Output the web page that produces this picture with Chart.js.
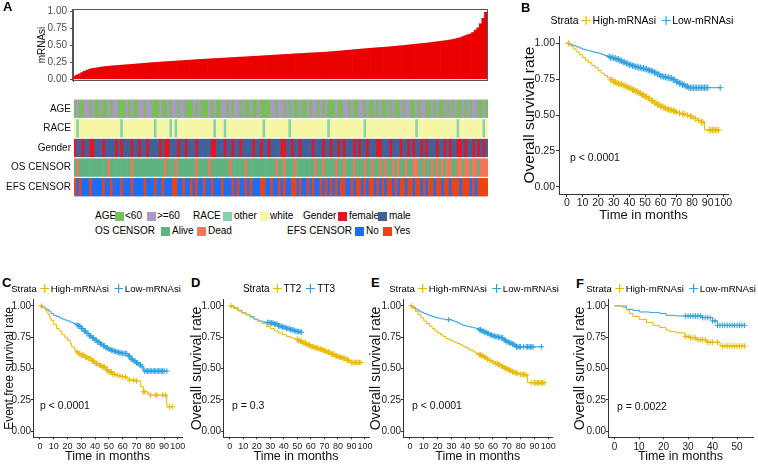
<!DOCTYPE html>
<html><head><meta charset="utf-8">
<script src="https://cdn.jsdelivr.net/npm/chart.js@4/dist/chart.umd.min.js"></script>
<style>
html,body{margin:0;padding:0;background:#fff;}
body{width:758px;height:464px;position:relative;overflow:hidden;font-family:'Liberation Sans',Arial,sans-serif;color:#000;}
canvas{position:absolute;}
.pl{position:absolute;font-weight:bold;font-size:13px;line-height:13px;}
.pv{position:absolute;font-size:10.5px;line-height:12px;color:#111;white-space:nowrap;}
.lg{position:absolute;font-size:9.6px;line-height:12px;white-space:nowrap;transform:translate(-50%,-50%);}
.key{display:inline-block;width:9px;height:9px;margin:0 2px 0 3px;vertical-align:-1px;}
.key.k2{margin-left:5px;}
.sw{position:absolute;width:9px;height:9px;}
.lt{position:absolute;font-size:10px;line-height:10px;white-space:nowrap;}
</style></head><body>

<canvas id="cA" width="490" height="90" style="left:0;top:0;width:490px;height:90px"></canvas>
<canvas id="cT" width="490" height="116" style="left:0;top:90px;width:490px;height:116px"></canvas>
<canvas id="cB" width="268" height="200" style="left:490px;top:28px;width:268px;height:200px"></canvas>
<canvas id="cC" width="190" height="172" style="left:0;top:292px;width:190px;height:172px"></canvas>
<canvas id="cD" width="190" height="172" style="left:186px;top:292px;width:190px;height:172px"></canvas>
<canvas id="cE" width="192" height="172" style="left:366px;top:292px;width:192px;height:172px"></canvas>
<canvas id="cF" width="190" height="172" style="left:568px;top:292px;width:190px;height:172px"></canvas>

<div class="pl" style="left:3px;top:0px">A</div>
<div class="pl" style="left:521px;top:1px">B</div>
<div class="pl" style="left:2px;top:276px">C</div>
<div class="pl" style="left:191px;top:276px">D</div>
<div class="pl" style="left:371px;top:276px">E</div>
<div class="pl" style="left:576px;top:277px">F</div>

<!-- panel A legend -->
<div class="lt" style="left:95px;top:211px">AGE</div>
<div class="sw" style="left:115px;top:211.5px;background:#78BE5A"></div>
<div class="lt" style="left:125px;top:211px">&lt;60</div>
<div class="sw" style="left:147px;top:211.5px;background:#AE97C8"></div>
<div class="lt" style="left:157px;top:211px">&gt;=60</div>
<div class="lt" style="left:193px;top:211px">RACE</div>
<div class="sw" style="left:223px;top:211.5px;background:#86D3A9"></div>
<div class="lt" style="left:234px;top:211px">other</div>
<div class="sw" style="left:260px;top:211.5px;background:#F6F7A6"></div>
<div class="lt" style="left:270px;top:211px">white</div>
<div class="lt" style="left:303px;top:211px">Gender</div>
<div class="sw" style="left:338px;top:211.5px;background:#E8141B"></div>
<div class="lt" style="left:349px;top:211px">female</div>
<div class="sw" style="left:378px;top:211.5px;background:#40609A"></div>
<div class="lt" style="left:389px;top:211px">male</div>
<div class="lt" style="left:95px;top:226px">OS CENSOR</div>
<div class="sw" style="left:161px;top:226.5px;background:#5FB37F"></div>
<div class="lt" style="left:172px;top:226px">Alive</div>
<div class="sw" style="left:197px;top:226.5px;background:#F57557"></div>
<div class="lt" style="left:208px;top:226px">Dead</div>
<div class="lt" style="left:287px;top:226px">EFS CENSOR</div>
<div class="sw" style="left:355px;top:226.5px;background:#1A6EF7"></div>
<div class="lt" style="left:366px;top:226px">No</div>
<div class="sw" style="left:383px;top:226.5px;background:#EA4414"></div>
<div class="lt" style="left:394px;top:226px">Yes</div>

<!-- KM legends -->
<div class="lg" style="left:642px;top:20px;font-size:10.5px">Strata<svg class="key" viewBox="0 0 9 9"><path d="M0 4.5H9M4.5 0V9" stroke="#E7B800" stroke-width="1.2" fill="none"/></svg>High-mRNAsi<svg class="key k2" viewBox="0 0 9 9"><path d="M0 4.5H9M4.5 0V9" stroke="#2E9FDF" stroke-width="1.2" fill="none"/></svg>Low-mRNAsi</div>
<div class="lg" style="left:96px;top:289px">Strata<svg class="key" viewBox="0 0 9 9"><path d="M0 4.5H9M4.5 0V9" stroke="#E7B800" stroke-width="1.2" fill="none"/></svg>High-mRNAsi<svg class="key k2" viewBox="0 0 9 9"><path d="M0 4.5H9M4.5 0V9" stroke="#2E9FDF" stroke-width="1.2" fill="none"/></svg>Low-mRNAsi</div>
<div class="lg" style="left:289px;top:289px;font-size:10px">Strata<svg class="key" viewBox="0 0 9 9"><path d="M0 4.5H9M4.5 0V9" stroke="#E7B800" stroke-width="1.2" fill="none"/></svg>TT2<svg class="key k2" viewBox="0 0 9 9"><path d="M0 4.5H9M4.5 0V9" stroke="#2E9FDF" stroke-width="1.2" fill="none"/></svg>TT3</div>
<div class="lg" style="left:474px;top:289px">Strata<svg class="key" viewBox="0 0 9 9"><path d="M0 4.5H9M4.5 0V9" stroke="#E7B800" stroke-width="1.2" fill="none"/></svg>High-mRNAsi<svg class="key k2" viewBox="0 0 9 9"><path d="M0 4.5H9M4.5 0V9" stroke="#2E9FDF" stroke-width="1.2" fill="none"/></svg>Low-mRNAsi</div>
<div class="lg" style="left:671px;top:289px">Strata<svg class="key" viewBox="0 0 9 9"><path d="M0 4.5H9M4.5 0V9" stroke="#E7B800" stroke-width="1.2" fill="none"/></svg>High-mRNAsi<svg class="key k2" viewBox="0 0 9 9"><path d="M0 4.5H9M4.5 0V9" stroke="#2E9FDF" stroke-width="1.2" fill="none"/></svg>Low-mRNAsi</div>

<div class="pv" style="left:570px;top:151px">p &lt; 0.0001</div>
<div class="pv" style="left:40px;top:399px">p &lt; 0.0001</div>
<div class="pv" style="left:232px;top:399px">p = 0.3</div>
<div class="pv" style="left:412px;top:399px">p &lt; 0.0001</div>
<div class="pv" style="left:617px;top:400px">p = 0.0022</div>

<script>
// ---------------- Panel A data ----------------
const sampleScore = [
0.045,0.065,0.08,0.1,0.12,0.135,0.15,0.16,0.165,0.17,
0.178,0.183,0.188,0.192,0.196,0.199,0.202,0.205,0.208,0.211,
0.214,0.217,0.22,0.223,0.226,0.229,0.232,0.236,0.239,0.242,
0.245,0.248,0.25,0.253,0.256,0.258,0.261,0.264,0.266,0.269,
0.271,0.274,0.276,0.279,0.281,0.284,0.286,0.289,0.291,0.294,
0.296,0.298,0.3,0.303,0.305,0.307,0.309,0.311,0.314,0.316,
0.318,0.32,0.322,0.325,0.327,0.329,0.331,0.333,0.336,0.338,
0.34,0.342,0.345,0.347,0.349,0.352,0.354,0.356,0.358,0.361,
0.363,0.365,0.368,0.37,0.372,0.375,0.377,0.379,0.381,0.384,
0.386,0.388,0.39,0.392,0.394,0.396,0.398,0.4,0.403,0.406,
0.409,0.412,0.416,0.419,0.422,0.426,0.429,0.432,0.436,0.44,
0.443,0.446,0.45,0.453,0.456,0.459,0.462,0.465,0.468,0.471,
0.474,0.477,0.48,0.483,0.487,0.49,0.494,0.498,0.502,0.506,
0.51,0.514,0.518,0.522,0.526,0.53,0.534,0.538,0.543,0.548,
0.553,0.558,0.563,0.568,0.573,0.579,0.586,0.594,0.603,0.613,
0.628,0.643,0.656,0.668,0.69,0.725,0.76,0.82,0.9,0.99];
const scoreTicks = [0, 0.25, 0.5, 0.75, 1];

// G = <60, P = >=60
const ageGroup = "GPGGPPGPGG PGGPGPPGGG PGPGGPPGPP GGGPGGPGPP GPPGGGPGPG GGPGPGGPPG PGPPGPGGPG GPGGGGPPGP PGPGPGGPGG PGPPGPGPGG GPGGPPGPGG PPGPGGPGPG GPGPGGPGPP GGPGPPGGPG PGGPGPGPGG PGPGPPGGPG";
// O = other, W = white
const raceGroup = "WOWWWWWWWW WWWWWWWWOW WWWWWWWWWW WOWWWWWOWO WWWWWWWWWW WWWWOWWWOW WWWWWWWWWW WWWOWWWWWW WWWOWWWWWW WWWWWWWWOW WWWWWWWWWW WWOWWWWWWW WWWWWWWWWW WWOWWWWWWW WWWWWWWWOW WWWWWWWWOW";
// F = female, M = male
const genderGroup = "FMMFMMFFMM MFMMMMFMFM MMFMMFMMFM MMMFMFFMMM FMMFMMMFMM MMMFFMMMFM MFMMFMMMMF MMFMMFMMMM FFMMFMMFMM MMFMMMFMMF MMFMFMMMFM FMMFMMMFFM MMFMMMFMMF MFMMFMFMMM FMMFMFMMFF MFMMFMFMFM";
// A = Alive, D = Dead
const osCensor = "ADAAAAAAAA AAADAAAAAA AADAAAAAAA AAAAADAAAD AAAAAAADAA AADAAAAAAA DAAAAADAAA AAAAAAAADA ADAAADAAAA AAADAADAAA ADAADAAADA AADAADAADA DAADADAADA ADDAADAADA DADADDAADD ADDADDADDD";
// N = No, Y = Yes
const efsCensor = "YNYNNNYNNN NYNNYNNNYN NNYNNNNYNN NYNNYNNNYY NNYNNYNYNN YNNYNNNYNN NYNYNNYNYN NNYYNNYNNY NYNNYYNYNN YNYNNYNYNY NYNYYNNYNY YNYNYYNYNY NYYNYNYYNY YNYYNYNYYN YYNYYNYYYN YYYNYNYYYY";

const trackNames = ['AGE', 'RACE', 'Gender', 'OS CENSOR', 'EFS CENSOR'];
const trackColors = [
  {G: '#78BE5A', P: '#AE97C8'},
  {O: '#86D3A9', W: '#F6F7A6'},
  {F: '#E8141B', M: '#40609A'},
  {A: '#5FB37F', D: '#F57557'},
  {N: '#1A6EF7', Y: '#EA4414'}
];

// ---------------- KM data ----------------
const survTicks = [0, 0.25, 0.5, 0.75, 1];
const monthTicks100 = [0,10,20,30,40,50,60,70,80,90,100];
const monthTicks50 = [0,10,20,30,40,50];

// B: overall survival, High vs Low mRNAsi
const bHighT = [0,2,4,6,8,10,12,14,16,18,20,22,24,26,28,30,32,34,36,38,40,42,44,46,48,50,52,54,56,58,60,62,64,66,68,70,72,74,76,78,80,82,84,86,88,97];
const bHighS = [1,0.98,0.96,0.94,0.92,0.9,0.88,0.865,0.845,0.83,0.81,0.79,0.775,0.76,0.745,0.73,0.72,0.715,0.705,0.695,0.686,0.675,0.665,0.652,0.64,0.628,0.615,0.6,0.585,0.572,0.56,0.55,0.54,0.535,0.528,0.52,0.513,0.506,0.5,0.493,0.486,0.475,0.463,0.45,0.395,0.395];
const bHighCens = [1,28,29,30,31,32,33,34,35,36,37,38,39,40,41,42,43,44,45,46,47,48,49,50,51,52,53,54,55,56,57,58,59,60,61,62,63,64,65,66,67,68,69,70,72,74,75,77,79,80,82,84,86,87,91,92,93,94,95,96,97];
const bLowT = [0,2,4,6,8,10,12,14,16,18,20,22,24,26,28,30,32,34,36,38,40,42,44,46,48,50,52,54,56,58,60,62,64,66,68,70,72,74,76,78,98];
const bLowS = [1,0.99,0.982,0.975,0.966,0.958,0.952,0.946,0.94,0.935,0.93,0.922,0.915,0.908,0.9,0.895,0.888,0.878,0.868,0.858,0.85,0.842,0.835,0.83,0.825,0.82,0.812,0.805,0.795,0.783,0.77,0.765,0.76,0.757,0.745,0.73,0.72,0.71,0.7,0.69,0.69];
const bLowCens = [27,28,29,30,31,32,33,34,35,36,37,38,39,40,41,42,43,44,45,46,47,48,49,50,51,52,53,54,55,56,57,58,59,60,61,62,63,64,65,66,67,68,69,70,71,72,73,74,75,76,77,78,79,80,81,82,83,84,85,86,87,88,89,90,98];

// C: event free survival
const cHighT = [0,2,4,5,6,7,8,10,12,14,16,18,20,22,23,25,26,28,30,33,35,38,40,43,45,48,50,53,55,58,60,63,65,70,73,75,78,80,92,96];
const cHighS = [1,0.985,0.965,0.95,0.93,0.91,0.885,0.85,0.82,0.8,0.77,0.75,0.726,0.7,0.673,0.65,0.633,0.62,0.606,0.59,0.58,0.56,0.54,0.525,0.513,0.49,0.473,0.455,0.447,0.44,0.434,0.42,0.407,0.4,0.354,0.314,0.3,0.287,0.194,0.194];
const cHighCens = [1,27,28,29,30,31,32,33,34,35,36,37,38,39,40,41,42,43,44,45,46,47,48,49,50,51,52,53,54,56,58,60,62,65,68,70,75,76,80,84,85,89,91,94,96];
const cLowT = [0,2,4,6,8,10,12,14,16,18,20,22,24,26,28,30,32,34,36,38,40,42,44,46,48,50,52,54,56,58,60,62,64,66,68,70,72,74,75,92];
const cLowS = [1,0.99,0.975,0.96,0.94,0.925,0.915,0.905,0.895,0.887,0.88,0.87,0.86,0.85,0.84,0.82,0.8,0.78,0.76,0.745,0.726,0.71,0.695,0.68,0.665,0.654,0.645,0.637,0.63,0.625,0.62,0.62,0.6,0.575,0.56,0.545,0.53,0.513,0.48,0.48];
const cLowCens = [27,28,29,30,31,32,33,34,35,36,37,38,39,40,41,42,43,44,45,46,47,48,49,50,51,52,53,54,55,56,57,58,59,60,61,62,63,64,65,66,67,68,69,70,71,72,73,74,76,77,78,79,80,81,82,83,84,85,86,87,88,89,90,92];

// D: TT2 vs TT3
const dTT2T = [0,3,6,9,12,15,18,21,24,27,30,33,36,39,42,45,48,51,54,57,60,63,66,69,72,75,78,81,84,87,89,97];
const dTT2S = [1,0.98,0.96,0.945,0.93,0.91,0.89,0.875,0.86,0.835,0.82,0.8,0.785,0.77,0.755,0.745,0.735,0.72,0.705,0.69,0.675,0.665,0.655,0.642,0.63,0.615,0.6,0.59,0.58,0.566,0.548,0.548];
const dTT2Cens = [1,50,51,52,53,54,55,56,57,58,59,60,61,62,63,64,65,66,67,68,69,70,71,72,73,74,75,76,77,78,79,80,81,82,83,84,85,86,87,88,90,91,92,93,94,95,96,97];
const dTT3T = [0,3,6,9,12,15,18,21,24,27,30,33,36,39,42,45,48,50,53];
const dTT3S = [1,0.985,0.965,0.945,0.93,0.915,0.895,0.88,0.872,0.868,0.864,0.855,0.84,0.83,0.82,0.81,0.8,0.795,0.79];
const dTT3Cens = [28,29,30,31,32,33,34,35,36,37,38,39,40,41,42,43,44,45,46,47,48,49,50,51,52,53];

// E: overall survival (validation)
const eHighT = [0,2,4,6,8,10,12,14,16,18,20,22,24,26,28,30,32,34,36,38,40,42,44,46,48,50,52,54,56,58,60,62,64,66,68,70,72,74,76,78,80,84,85,97];
const eHighS = [1,0.98,0.955,0.93,0.905,0.88,0.86,0.84,0.82,0.8,0.785,0.77,0.755,0.74,0.73,0.72,0.71,0.7,0.69,0.678,0.668,0.655,0.645,0.632,0.62,0.61,0.6,0.588,0.575,0.563,0.552,0.54,0.53,0.518,0.505,0.495,0.485,0.473,0.465,0.458,0.452,0.447,0.386,0.386];
const eHighCens = [1,50,51,52,53,54,55,56,58,60,62,63,64,65,66,67,68,69,70,71,72,73,74,75,76,77,78,80,81,82,83,84,88,90,91,92,93,94,95,96,97];
const eLowT = [0,2,4,6,8,10,12,14,16,18,20,22,24,26,28,30,32,34,36,38,40,42,44,46,48,50,52,54,56,58,60,62,64,66,68,70,72,74,76,77,95];
const eLowS = [1,0.99,0.975,0.96,0.95,0.94,0.93,0.922,0.915,0.908,0.903,0.898,0.894,0.89,0.89,0.885,0.875,0.865,0.855,0.846,0.84,0.835,0.83,0.825,0.82,0.81,0.8,0.79,0.78,0.768,0.76,0.755,0.75,0.745,0.725,0.713,0.705,0.694,0.685,0.673,0.673];
const eLowCens = [28,50,51,52,53,54,55,56,57,58,59,60,61,62,63,64,65,66,67,68,69,70,71,72,73,74,75,76,77,78,79,80,82,84,85,86,87,88,89,95];

// F: overall survival (second validation)
const fHighT = [0,3.4,4.8,6,7.5,10,13,15.7,18.4,21,22.5,25,28.7,31,33.5,37.6,43,53];
const fHighS = [1,0.987,0.968,0.94,0.915,0.893,0.867,0.845,0.827,0.808,0.795,0.785,0.755,0.745,0.73,0.71,0.68,0.68];
const fHighCens = [29,30,31,32,33,34,35,36,37,38,39,40,42,44,45,46,47,48,49,50,51,52,53];
const fLowT = [0,4.8,7.5,10.2,14.3,18.4,21,25,36,40,42,53];
const fLowS = [1,0.973,0.965,0.952,0.947,0.94,0.925,0.92,0.907,0.88,0.845,0.845];
const fLowCens = [29,30,31,32,33,34,35,36,37,38,39,40,41,42,43,44,45,46,47,48,49,50,51,52,53];

const HIGH = '#E7B800', LOW = '#2E9FDF';

// ---------------- rendering ----------------
Chart.defaults.font.family = "'Liberation Sans', Arial, sans-serif";
Chart.defaults.color = '#222';

const framePlugin = {
  id: 'frame',
  afterDraw(chart, args, opts) {
    if (!opts || !opts.show) return;
    const {ctx, chartArea: a} = chart;
    ctx.save();
    ctx.strokeStyle = opts.color || '#444';
    ctx.lineWidth = 1;
    ctx.strokeRect(Math.round(a.left) - 0.5, Math.round(a.top) + 0.5, Math.round(a.right - a.left) + 1, Math.round(a.bottom - a.top) - 1);
    ctx.restore();
  }
};

const fixedTicks = vals => s => { s.ticks = vals.map(v => ({value: v})); };

// Panel A: bars
new Chart(document.getElementById('cA'), {
  type: 'bar',
  data: {
    labels: sampleScore.map((_, i) => String(i + 1)),
    datasets: [{data: sampleScore, backgroundColor: '#EA0000', barPercentage: 1, categoryPercentage: 1, borderWidth: 0}]
  },
  options: {
    responsive: false, animation: false, devicePixelRatio: 1, events: [],
    layout: {padding: {left: 0, right: 3, top: 2, bottom: 2}, autoPadding: false},
    plugins: {legend: {display: false}, tooltip: {enabled: false}, frame: {show: true, color: '#555'}},
    scales: {
      x: {display: false},
      y: {
        min: -0.025, max: 1.037,
        afterFit: s => { s.width = 73; },
        afterBuildTicks: fixedTicks(scoreTicks),
        ticks: {callback: v => Number(v).toFixed(2), font: {size: 10}, color: '#4D4D4D', padding: 3},
        grid: {drawOnChartArea: false, tickLength: 3, color: '#555'},
        border: {color: '#555'},
        title: {display: true, text: 'mRNAsi', font: {size: 10}, color: '#111', padding: {top: 36, bottom: 0}}
      }
    }
  },
  plugins: [framePlugin]
});

// Panel A: annotation tracks
const trackCodes = [ageGroup, raceGroup, genderGroup, osCensor, efsCensor].map(s => s.replace(/ /g, '').split(''));
new Chart(document.getElementById('cT'), {
  type: 'bar',
  data: {
    labels: sampleScore.map((_, i) => String(i + 1)),
    datasets: trackCodes.map((codes, t) => ({
      data: sampleScore.map((_, i) => [t + 0.05, t + 0.95]),
      backgroundColor: sampleScore.map((_, i) => trackColors[t][codes[i]] || '#ffffff'),
      barPercentage: 1, categoryPercentage: 1, grouped: false, borderWidth: 0
    }))
  },
  options: {
    responsive: false, animation: false, devicePixelRatio: 1, events: [],
    layout: {padding: {left: 0, right: 2, top: 2, bottom: 1}, autoPadding: false},
    plugins: {legend: {display: false}, tooltip: {enabled: false}},
    scales: {
      x: {display: false},
      y: {
        type: 'linear', min: 0, max: 5, reverse: true,
        afterFit: s => { s.width = 74; },
        afterBuildTicks: fixedTicks([0.5, 1.5, 2.5, 3.5, 4.5]),
        ticks: {callback: v => trackNames[Math.floor(v)], font: {size: 10}, color: '#111', padding: 3},
        grid: {display: false, drawTicks: false},
        border: {display: false}
      }
    }
  }
});

// KM panels
function survAt(times, surv, t) {
  let v = surv[0];
  for (let i = 0; i < times.length; i++) { if (times[i] <= t) v = surv[i]; }
  return v;
}

function km(id, cfg) {
  const ds = [];
  cfg.curves.forEach(c => {
    ds.push({
      label: c.name, data: c.t.map((t, i) => ({x: t, y: c.s[i]})),
      borderColor: c.color, borderWidth: 1, stepped: true, pointRadius: 0, fill: false
    });
    ds.push({
      label: c.name + ' censor', data: c.cens.map(t => ({x: t, y: survAt(c.t, c.s, t)})),
      showLine: false, pointStyle: 'cross', pointRadius: cfg.cross || 2.8, borderColor: c.color,
      backgroundColor: c.color, pointBorderWidth: 1
    });
  });
  new Chart(document.getElementById(id), {
    type: 'line',
    data: {datasets: ds},
    options: {
      responsive: false, animation: false, devicePixelRatio: 1, events: [],
      layout: {padding: cfg.pad, autoPadding: false},
      plugins: {legend: {display: false}, tooltip: {enabled: false}},
      scales: {
        x: {
          type: 'linear', min: cfg.xmin, max: cfg.xmax,
          afterFit: s => { s.height = cfg.xh; },
          afterBuildTicks: fixedTicks(cfg.xticks),
          ticks: {autoSkip: false, maxRotation: 0, minRotation: 0, font: {size: cfg.xtf}, color: '#222', padding: cfg.xtp},
          grid: {drawOnChartArea: false, tickLength: cfg.tl, color: '#333'},
          border: {color: '#333'},
          title: {display: true, text: 'Time in months', font: {size: cfg.xtitle}, color: '#111', padding: {top: 0, bottom: cfg.xtpad}}
        },
        y: {
          min: -0.05, max: 1.05,
          afterFit: s => { s.width = cfg.yw; },
          afterBuildTicks: fixedTicks(survTicks),
          ticks: {callback: v => Number(v).toFixed(2), font: {size: cfg.ytf}, color: '#222', padding: cfg.ytp},
          grid: {drawOnChartArea: false, tickLength: cfg.tl, color: '#333'},
          border: {color: '#333'},
          title: {display: true, text: cfg.ytitle, font: {size: cfg.ytsize}, color: '#111', padding: {top: cfg.ytpad, bottom: 0}}
        }
      }
    }
  });
}

km('cB', {
  curves: [
    {name: 'High-mRNAsi', t: bHighT, s: bHighS, cens: bHighCens, color: HIGH},
    {name: 'Low-mRNAsi', t: bLowT, s: bLowS, cens: bLowCens, color: LOW}
  ],
  pad: {left: 0, top: 8, right: 30, bottom: 0}, xh: 34, yw: 69,
  xmin: -5, xmax: 103, xticks: monthTicks100, xtf: 10.5, xtp: 0, tl: 3,
  xtitle: 13, xtpad: 5, ytf: 10.5, ytp: 1,
  ytitle: 'Overall survival rate', ytsize: 15.5, ytpad: 30.7, cross: 3.2
});
km('cC', {
  curves: [
    {name: 'High-mRNAsi', t: cHighT, s: cHighS, cens: cHighCens, color: HIGH},
    {name: 'Low-mRNAsi', t: cLowT, s: cLowS, cens: cLowCens, color: LOW}
  ],
  pad: {left: 0, top: 7.7, right: 8, bottom: 0}, xh: 26.7, yw: 33,
  xmin: -5, xmax: 103, xticks: monthTicks100, xtf: 9, xtp: 2, tl: 2,
  xtitle: 12.5, xtpad: 0, ytf: 10, ytp: 0,
  ytitle: 'Event free survival rate', ytsize: 12, ytpad: 2.8
});
km('cD', {
  curves: [
    {name: 'TT2', t: dTT2T, s: dTT2S, cens: dTT2Cens, color: HIGH},
    {name: 'TT3', t: dTT3T, s: dTT3S, cens: dTT3Cens, color: LOW}
  ],
  pad: {left: 0, top: 7.7, right: 7, bottom: 0}, xh: 26.7, yw: 37,
  xmin: -5, xmax: 103, xticks: monthTicks100, xtf: 9, xtp: 2, tl: 2,
  xtitle: 12.5, xtpad: 0, ytf: 10, ytp: 0,
  ytitle: 'Overall survival rate', ytsize: 14, ytpad: 2.6
});
km('cE', {
  curves: [
    {name: 'High-mRNAsi', t: eHighT, s: eHighS, cens: eHighCens, color: HIGH},
    {name: 'Low-mRNAsi', t: eLowT, s: eLowS, cens: eLowCens, color: LOW}
  ],
  pad: {left: 0, top: 7.7, right: 5, bottom: 0}, xh: 26.7, yw: 37,
  xmin: -5, xmax: 103, xticks: monthTicks100, xtf: 9, xtp: 2, tl: 2,
  xtitle: 12.5, xtpad: 0, ytf: 10, ytp: 0,
  ytitle: 'Overall survival rate', ytsize: 14, ytpad: 1.6
});
km('cF', {
  curves: [
    {name: 'High-mRNAsi', t: fHighT, s: fHighS, cens: fHighCens, color: HIGH},
    {name: 'Low-mRNAsi', t: fLowT, s: fLowS, cens: fLowCens, color: LOW}
  ],
  pad: {left: 0, top: 7.7, right: 5, bottom: 0}, xh: 26.7, yw: 40,
  xmin: -2.7, xmax: 56.5, xticks: monthTicks50, xtf: 10, xtp: 2, tl: 2,
  xtitle: 12.5, xtpad: 0, ytf: 10, ytp: 0,
  ytitle: 'Overall survival rate', ytsize: 14, ytpad: 3.6
});
</script>
</body></html>
